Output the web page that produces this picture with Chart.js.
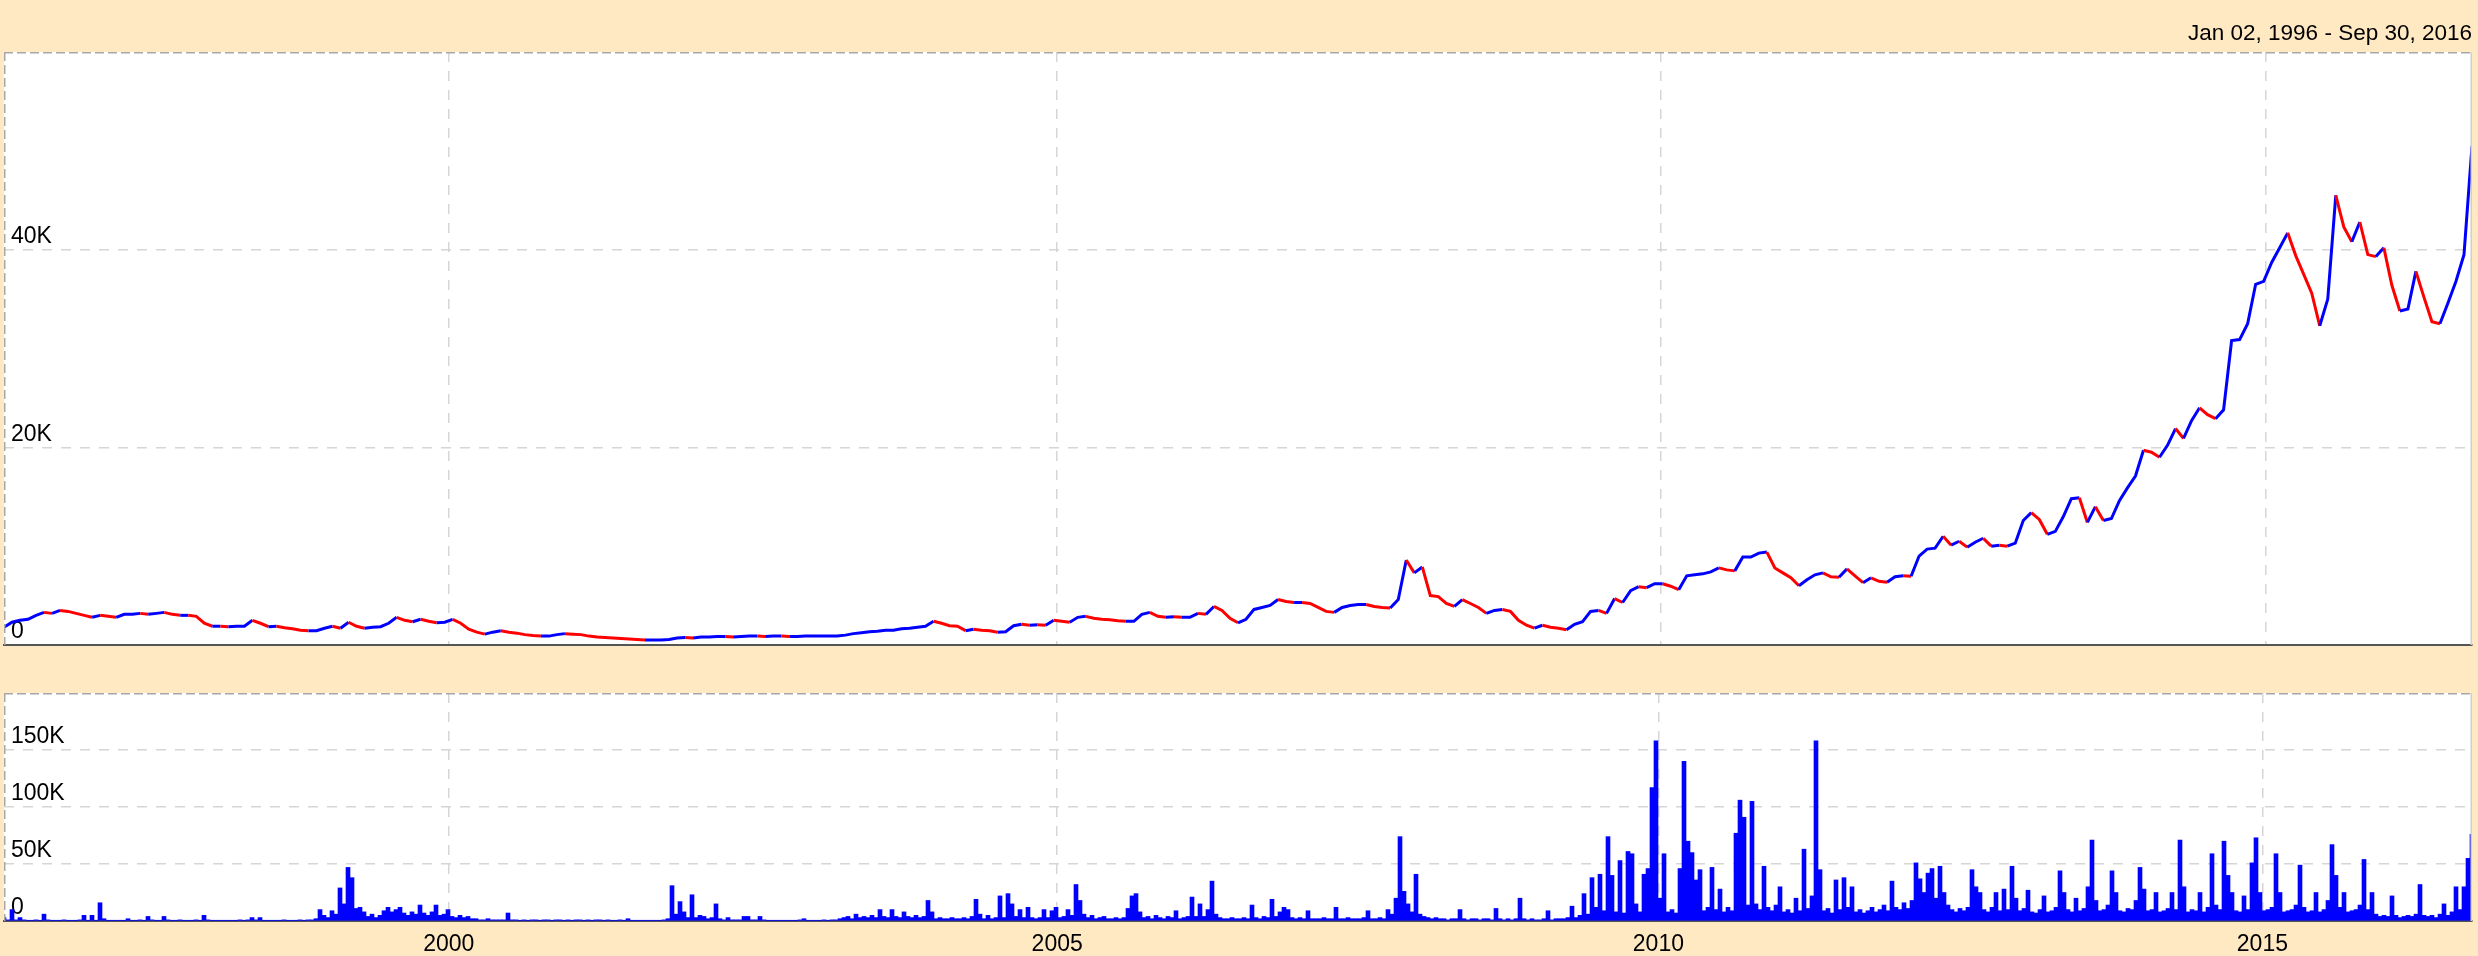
<!DOCTYPE html>
<html>
<head>
<meta charset="utf-8">
<title>Precio y volumen 1996 - 2016</title>
<script src="https://cdn.jsdelivr.net/npm/chart.js@4.4.0/dist/chart.umd.min.js"></script>
<style>
    html, body { margin: 0; padding: 0; background: #ffe9c3; }
    body { width: 2478px; height: 956px; position: relative; overflow: hidden; }
    #price-chart { position: absolute; left: 0; top: 0; }
    #volume-chart { position: absolute; left: 0; top: 660px; }
</style>
</head>
<body>
<canvas id="price-chart" width="2478" height="667"></canvas>
<canvas id="volume-chart" width="2478" height="296"></canvas>
<script>
// Rango de fechas del gráfico
const dateRange = 'Jan 02, 1996 - Sep 30, 2016';

// Etiquetas de años en el eje X
const yearLabels = ['2000', '2005', '2010', '2015'];
// Posición de cada año, en índice de muestra de cada panel
const priceYearIdx = [55.5, 131.4, 206.7, 282.3];
const volumeYearIdx = [111.2, 263.3, 413.6, 564.6];

// Ticks del eje Y (en miles)
const priceTicks = [0, 20, 40];
const volumeTicks = [0, 50, 100, 150];

// Precio de cierre (miles)
const priceK = [
    1.8, 2.3, 2.5, 2.6, 3.0, 3.3, 3.2, 3.5, 3.4, 3.2, 3.0, 2.8, 3.0, 2.9, 2.8, 3.1, 3.1, 3.2, 3.1, 3.2,
    3.3, 3.1, 3.0, 3.0, 2.9, 2.2, 1.9, 1.9, 1.85, 1.9, 1.9, 2.5, 2.2, 1.85, 1.9, 1.75, 1.65, 1.5, 1.45, 1.45,
    1.7, 1.9, 1.7, 2.3, 1.9, 1.7, 1.8, 1.85, 2.2, 2.8, 2.5, 2.35, 2.6, 2.4, 2.25, 2.3, 2.6, 2.2, 1.6, 1.3,
    1.1, 1.3, 1.45, 1.3, 1.2, 1.05, 0.95, 0.9, 0.9, 1.05, 1.15, 1.1, 1.05, 0.9, 0.8, 0.75, 0.7, 0.65, 0.6, 0.55,
    0.5, 0.5, 0.5, 0.55, 0.7, 0.75, 0.7, 0.8, 0.8, 0.85, 0.85, 0.8, 0.85, 0.9, 0.9, 0.85, 0.9, 0.9, 0.85, 0.85,
    0.9, 0.9, 0.9, 0.9, 0.9, 1.0, 1.15, 1.25, 1.35, 1.4, 1.5, 1.5, 1.65, 1.7, 1.8, 1.9, 2.4, 2.2, 1.95, 1.9,
    1.45, 1.6, 1.5, 1.45, 1.3, 1.35, 1.95, 2.1, 2.0, 2.05, 2.0, 2.5, 2.4, 2.3, 2.8, 2.9, 2.7, 2.6, 2.55, 2.45,
    2.4, 2.4, 3.1, 3.3, 2.9, 2.8, 2.85, 2.8, 2.8, 3.2, 3.1, 3.9, 3.5, 2.7, 2.25, 2.6, 3.6, 3.8, 4.0, 4.6,
    4.4, 4.3, 4.3, 4.2, 3.8, 3.4, 3.3, 3.8, 4.0, 4.1, 4.1, 3.9, 3.8, 3.75, 4.6, 8.6, 7.3, 7.9, 5.0, 4.9,
    4.2, 3.9, 4.6, 4.2, 3.8, 3.2, 3.5, 3.6, 3.4, 2.5, 2.0, 1.7, 2.0, 1.8, 1.7, 1.55, 2.1, 2.35, 3.4, 3.5,
    3.2, 4.7, 4.3, 5.5, 5.9, 5.8, 6.2, 6.2, 5.95, 5.6, 7.0, 7.1, 7.2, 7.4, 7.8, 7.6, 7.5, 8.9, 8.9, 9.3,
    9.4, 7.8, 7.3, 6.8, 6.0, 6.6, 7.1, 7.3, 6.9, 6.85, 7.7, 7.0, 6.3, 6.8, 6.45, 6.35, 6.9, 7.0, 6.95, 9.0,
    9.7, 9.8, 11.0, 10.1, 10.5, 9.9, 10.4, 10.8, 10.0, 10.1, 10.0, 10.3, 12.6, 13.4, 12.7, 11.2, 11.5, 13.0, 14.8, 14.9,
    12.4, 14.0, 12.6, 12.8, 14.6, 15.9, 17.1, 19.7, 19.5, 19.0, 20.2, 21.9, 20.9, 22.7, 24.0, 23.3, 22.9, 23.8, 30.8, 30.9,
    32.5, 36.5, 36.8, 38.7, 40.2, 41.7, 39.4, 37.5, 35.6, 32.3, 35.0, 45.5, 42.3, 40.8, 42.8, 39.5, 39.3, 40.2, 36.4, 33.8,
    34.0, 37.8, 35.2, 32.7, 32.5, 34.6, 36.8, 39.5, 50.5
];

// Volumen (miles)
const volumeK = [
    3, 1, 10, 1, 3, 1, 0.5, 0.5, 1, 0.5, 6, 1, 0.5, 0.5, 0.5, 1, 0.5, 0.5, 0.5, 1,
    5, 0.5, 5, 0.5, 16, 2, 0.5, 0.5, 0.5, 0.5, 0.5, 2, 0.5, 0.5, 1, 0.5, 4, 1, 0.5, 0.5,
    4, 1, 0.5, 0.5, 1, 0.5, 0.5, 0.5, 1, 0.5, 5, 1, 0.5, 0.5, 0.5, 0.5, 0.5, 0.5, 0.5, 1,
    0.5, 1, 3, 1, 3, 0.5, 0.5, 0.5, 0.5, 0.5, 1, 0.5, 0.5, 0.5, 1, 0.5, 1, 1, 2, 10,
    5, 3, 9, 6, 29, 15, 47, 38, 11, 12, 8, 4, 6, 3, 5, 9, 12, 8, 10, 12,
    7, 5, 8, 6, 14, 7, 5, 8, 14, 5, 6, 10, 4, 3, 5, 3, 4, 2, 2, 1,
    1, 2, 1, 1, 1, 1, 7, 1, 1, 0.5, 1, 0.5, 1, 1, 0.5, 1, 1, 0.5, 1, 1,
    0.5, 1, 0.5, 1, 1, 0.5, 1, 0.5, 1, 1, 0.5, 1, 0.5, 0.5, 1, 0.5, 2, 0.5, 0.5, 0.5,
    0.5, 0.5, 0.5, 0.5, 0.5, 1, 2, 31, 6, 17, 8, 3, 23, 3, 5, 4, 2, 3, 15, 2,
    1, 3, 1, 1, 1, 4, 4, 1, 1, 4, 1, 0.5, 0.5, 0.5, 0.5, 0.5, 0.5, 0.5, 0.5, 1,
    2, 0.5, 0.5, 0.5, 0.5, 1, 0.5, 1, 1, 2, 3, 4, 2, 6, 3, 4, 3, 5, 3, 10,
    4, 3, 10, 4, 3, 8, 4, 3, 5, 3, 4, 18, 8, 2, 3, 2, 2, 3, 2, 2,
    3, 2, 4, 19, 6, 2, 5, 2, 3, 22, 3, 24, 15, 4, 10, 3, 12, 3, 2, 3,
    10, 3, 9, 12, 3, 4, 10, 5, 32, 18, 6, 3, 5, 2, 3, 4, 2, 2, 3, 2,
    3, 11, 22, 24, 8, 3, 4, 2, 5, 3, 2, 4, 3, 9, 2, 3, 4, 21, 4, 15,
    4, 10, 35, 6, 3, 2, 2, 3, 2, 2, 3, 2, 14, 3, 2, 4, 3, 19, 4, 8,
    12, 10, 3, 2, 3, 2, 9, 2, 2, 2, 3, 2, 2, 12, 2, 2, 3, 2, 2, 2,
    3, 9, 2, 2, 3, 2, 10, 6, 20, 74, 26, 15, 8, 41, 6, 4, 3, 2, 3, 2,
    2, 1, 2, 2, 10, 2, 1, 2, 2, 1, 2, 2, 1, 11, 2, 1, 2, 1, 2, 20,
    2, 1, 2, 1, 1, 2, 9, 1, 2, 2, 2, 3, 13, 3, 5, 24, 6, 38, 12, 41,
    9, 74, 40, 8, 53, 7, 61, 59, 15, 8, 41, 46, 117, 158, 20, 59, 8, 10, 7, 46,
    140, 70, 60, 36, 45, 9, 12, 47, 10, 28, 8, 12, 9, 77, 106, 91, 14, 105, 15, 10,
    48, 12, 9, 14, 30, 8, 10, 7, 20, 9, 63, 11, 22, 158, 45, 9, 11, 7, 36, 10,
    38, 12, 30, 8, 10, 7, 9, 12, 8, 10, 14, 9, 35, 12, 10, 16, 11, 18, 51, 37,
    25, 42, 46, 20, 48, 25, 14, 10, 8, 11, 9, 12, 45, 30, 25, 10, 8, 12, 25, 9,
    28, 10, 48, 20, 9, 11, 27, 8, 7, 10, 22, 8, 9, 12, 44, 25, 10, 8, 20, 9,
    11, 30, 71, 18, 9, 10, 14, 44, 25, 9, 8, 11, 10, 18, 47, 28, 9, 10, 25, 8,
    9, 11, 25, 10, 71, 30, 8, 10, 9, 25, 8, 12, 59, 14, 10, 70, 40, 25, 9, 8,
    22, 10, 51, 73, 25, 9, 10, 12, 59, 25, 8, 9, 10, 14, 49, 12, 8, 9, 25, 8,
    10, 18, 67, 40, 12, 25, 8, 9, 10, 14, 54, 10, 25, 6, 4, 5, 4, 22, 5, 3,
    4, 5, 4, 6, 32, 5, 4, 5, 3, 6, 15, 5, 8, 30, 10, 30, 55, 76
];

// Colores y estilos
const COLORS = {
    up: '#0000ff',
    down: '#ff0000',
    volume: '#0000ff',
    grid: '#d6d6d6',
    axis: '#555555',
    frame: '#a8a8a8',
    frameRight: '#cfcfcf'
};

Chart.defaults.font.family = "'Liberation Sans', Arial, sans-serif";
Chart.defaults.font.size = 23;
Chart.defaults.color = '#000';

// Plugin: fondo blanco del panel y marco punteado
const panelPlugin = {
    id: 'panel',
    beforeDraw: function(chart) {
        const { ctx, chartArea: a } = chart;
        ctx.save();
        ctx.fillStyle = '#ffffff';
        ctx.fillRect(a.left, a.top, a.right - a.left, a.bottom - a.top);
        ctx.restore();
    },
    afterDraw: function(chart) {
        const { ctx, chartArea: a } = chart;
        ctx.save();
        ctx.lineWidth = 1.5;
        ctx.strokeStyle = COLORS.frame;
        ctx.setLineDash([9, 4]);
        ctx.beginPath();
        ctx.moveTo(a.left, a.top + 0.75);
        ctx.lineTo(a.right, a.top + 0.75);
        ctx.moveTo(a.left + 0.75, a.top);
        ctx.lineTo(a.left + 0.75, a.bottom);
        ctx.stroke();
        ctx.setLineDash([]);
        ctx.strokeStyle = COLORS.frameRight;
        ctx.beginPath();
        ctx.moveTo(a.right - 0.75, a.top);
        ctx.lineTo(a.right - 0.75, a.bottom);
        ctx.stroke();
        ctx.restore();
    }
};

const Grafico = {
    charts: {},

    init: function() {
        this.createPriceChart();
        this.createVolumeChart();
    },

    // Eje Y con etiquetas dentro del panel
    yAxis: function(max, ticks) {
        return {
            min: 0,
            max: max,
            afterFit: s => { s.width = 4; },
            afterBuildTicks: s => { s.ticks = ticks.map(v => ({ value: v })); },
            border: { display: false, dash: [10, 9] },
            grid: {
                color: ctx => ctx.tick && ctx.tick.value > 0 ? COLORS.grid : 'transparent',
                lineWidth: 1.5,
                drawTicks: false
            },
            ticks: {
                mirror: true,
                padding: 7,
                labelOffset: -13,
                callback: v => v === 0 ? '0' : v + 'K'
            }
        };
    },

    // Eje X (índice de muestra) con líneas verticales en los años
    xAxis: function(count, yearIdx, showLabels, height) {
        return {
            type: 'linear',
            min: 0,
            max: count - 1,
            offset: false,
            afterFit: s => { s.height = height; },
            afterBuildTicks: s => { s.ticks = yearIdx.map(v => ({ value: v })); },
            border: { display: true, color: COLORS.axis, width: 2, dash: [10, 9] },
            grid: { color: COLORS.grid, lineWidth: 1.5, drawTicks: false, offset: false },
            ticks: {
                display: showLabels,
                autoSkip: false,
                maxRotation: 0,
                padding: 10,
                callback: (v, i) => yearLabels[i]
            }
        };
    },

    createPriceChart: function() {
        const ctx = document.getElementById('price-chart');
        this.charts.price = new Chart(ctx, {
            type: 'line',
            data: {
                labels: priceK.map((_, i) => i),
                datasets: [{
                    data: priceK,
                    borderColor: COLORS.up,
                    borderWidth: 3,
                    pointRadius: 0,
                    tension: 0,
                    segment: {
                        borderColor: c => c.p1.parsed.y < c.p0.parsed.y ? COLORS.down : COLORS.up
                    }
                }]
            },
            options: {
                responsive: false,
                animation: false,
                layout: { padding: { left: 0, right: 6, top: 0, bottom: 0 } },
                plugins: {
                    legend: { display: false },
                    tooltip: { enabled: false },
                    title: {
                        display: true,
                        text: dateRange,
                        align: 'end',
                        color: '#000',
                        font: { size: 22.5, weight: 'normal' },
                        padding: { top: 20, bottom: 5 }
                    }
                },
                scales: {
                    x: this.xAxis(priceK.length, priceYearIdx, false, 22),
                    y: this.yAxis(60, priceTicks)
                }
            },
            plugins: [panelPlugin]
        });
    },

    createVolumeChart: function() {
        const ctx = document.getElementById('volume-chart');
        this.charts.volume = new Chart(ctx, {
            type: 'bar',
            data: {
                labels: volumeK.map((_, i) => i),
                datasets: [{
                    data: volumeK,
                    backgroundColor: COLORS.volume,
                    borderWidth: 0,
                    barPercentage: 1,
                    categoryPercentage: 1
                }]
            },
            options: {
                responsive: false,
                animation: false,
                layout: { padding: { left: 0, right: 6, top: 33, bottom: 0 } },
                plugins: {
                    legend: { display: false },
                    tooltip: { enabled: false }
                },
                scales: {
                    x: this.xAxis(volumeK.length, volumeYearIdx, true, 35),
                    y: this.yAxis(200, volumeTicks)
                }
            },
            plugins: [panelPlugin]
        });
    }
};

document.addEventListener('DOMContentLoaded', () => {
    Grafico.init();
});
</script>
</body>
</html>
